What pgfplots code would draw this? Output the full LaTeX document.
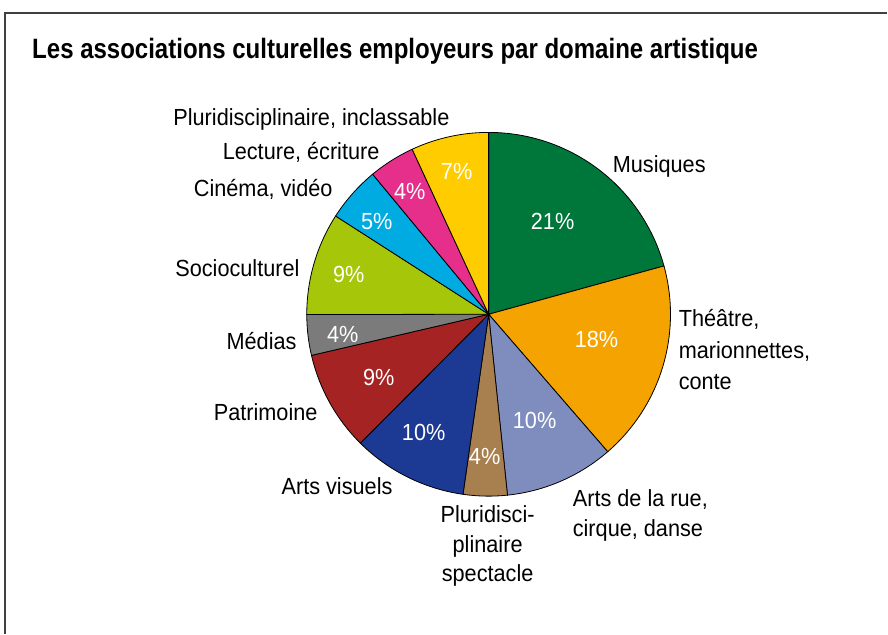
\documentclass[border=0pt]{standalone}
\usepackage{fontspec}
\setmainfont{Liberation Sans}[FakeStretch=0.93]
\newfontfamily\titlefont{Liberation Sans}[FakeStretch=0.858]
\usepackage{pgfplots}
\usepackage{pgfplotstable}
\pgfplotsset{compat=1.18}

\definecolor{cMus}{HTML}{00773A}
\definecolor{cThe}{HTML}{F4A300}
\definecolor{cRue}{HTML}{7F8DBE}
\definecolor{cSpe}{HTML}{A8804F}
\definecolor{cVis}{HTML}{1C3A93}
\definecolor{cPat}{HTML}{A52423}
\definecolor{cMed}{HTML}{7B7B7B}
\definecolor{cSoc}{HTML}{A6C60A}
\definecolor{cCin}{HTML}{00ABE2}
\definecolor{cLec}{HTML}{E62E8B}
\definecolor{cInc}{HTML}{FFCC00}
\definecolor{framegray}{HTML}{404040}

% share = measured share of the circle (%), pct = printed label, lx/ly = label position (px)
\pgfplotstableread[col sep=comma]{
share,pct,color,lx,ly
20.7,21,cMus,553,222
17.9,18,cThe,597,340
9.7,10,cRue,535,421
3.9,4,cSpe,485,457
10.2,10,cVis,424,433
8.9,9,cPat,379,378
3.6,4,cMed,343,335
9.1,9,cSoc,349,275
4.9,5,cCin,377,222
4.1,4,cLec,410,192
6.9,7,cInc,457,172
}\piedata

\begin{document}
\begin{tikzpicture}
\begin{axis}[
  width=666pt, height=475.5pt, scale only axis,
  xmin=0, xmax=888, ymin=0, ymax=634, y dir=reverse,
  hide axis, clip=false,
]
\path (rel axis cs:0,0) rectangle (rel axis cs:1,1);
\draw[framegray, line width=1pt] (axis cs:888,13) -- (axis cs:5,13) -- (axis cs:5,634);

\pgfplotstablegetrowsof{\piedata}
\pgfmathtruncatemacro\N{\pgfplotsretval-1}
\def\cum{0}
\pgfplotsforeachungrouped \i in {0,...,\N}{%
  \pgfplotstablegetelem{\i}{share}\of\piedata \let\sv\pgfplotsretval
  \pgfplotstablegetelem{\i}{color}\of\piedata \let\scol\pgfplotsretval
  \pgfplotstablegetelem{\i}{pct}\of\piedata \let\spct\pgfplotsretval
  \pgfplotstablegetelem{\i}{lx}\of\piedata \let\slx\pgfplotsretval
  \pgfplotstablegetelem{\i}{ly}\of\piedata \let\sly\pgfplotsretval
  \pgfmathsetmacro\sa{90-360/99.9*(\cum+\sv)}
  \pgfmathsetmacro\sb{90-360/99.9*\cum}
  \edef\temp{\noexpand\addplot[draw=black, line width=0.6pt, fill=\scol, domain=\sa:\sb, samples=50]
     ({489+182*cos(x)},{314.5-182*sin(x)}) -- (axis cs:489,314.5) -- cycle;
     \noexpand\node[white, font=\noexpand\fontsize{17.5}{21}\noexpand\selectfont, inner sep=0pt] at (axis cs:\slx,\sly) {\spct\noexpand\%};}
  \temp
  \pgfmathsetmacro\cum{\cum+\sv}
}

\node[anchor=base west, inner sep=0pt, font=\titlefont\bfseries\fontsize{21}{25}\selectfont] at (axis cs:32,58.3) {Les associations culturelles employeurs par domaine artistique};

\tikzset{lab/.style={inner sep=0pt, font=\fontsize{17.5}{21}\selectfont}}
\node[lab, anchor=base west] at (axis cs:613,173) {Musiques};
\node[lab, anchor=base west] at (axis cs:679,326.7) {Théâtre,};
\node[lab, anchor=base west] at (axis cs:679,358.5) {marionnettes,};
\node[lab, anchor=base west] at (axis cs:679,390) {conte};
\node[lab, anchor=base west] at (axis cs:573,507) {Arts de la rue,};
\node[lab, anchor=base west] at (axis cs:573,537) {cirque, danse};
\node[lab, anchor=base] at (axis cs:488,523) {Pluridisci-};
\node[lab, anchor=base] at (axis cs:488,552.5) {plinaire};
\node[lab, anchor=base] at (axis cs:488,582) {spectacle};
\node[lab, anchor=base east] at (axis cs:393,495) {Arts visuels};
\node[lab, anchor=base east] at (axis cs:318,421) {Patrimoine};
\node[lab, anchor=base east] at (axis cs:297,350) {Médias};
\node[lab, anchor=base east] at (axis cs:300,277) {Socioculturel};
\node[lab, anchor=base east] at (axis cs:333,197) {Cinéma, vidéo};
\node[lab, anchor=base east] at (axis cs:380,160) {Lecture, écriture};
\node[lab, anchor=base east] at (axis cs:450,126) {Pluridisciplinaire, inclassable};
\end{axis}
\end{tikzpicture}
\end{document}
